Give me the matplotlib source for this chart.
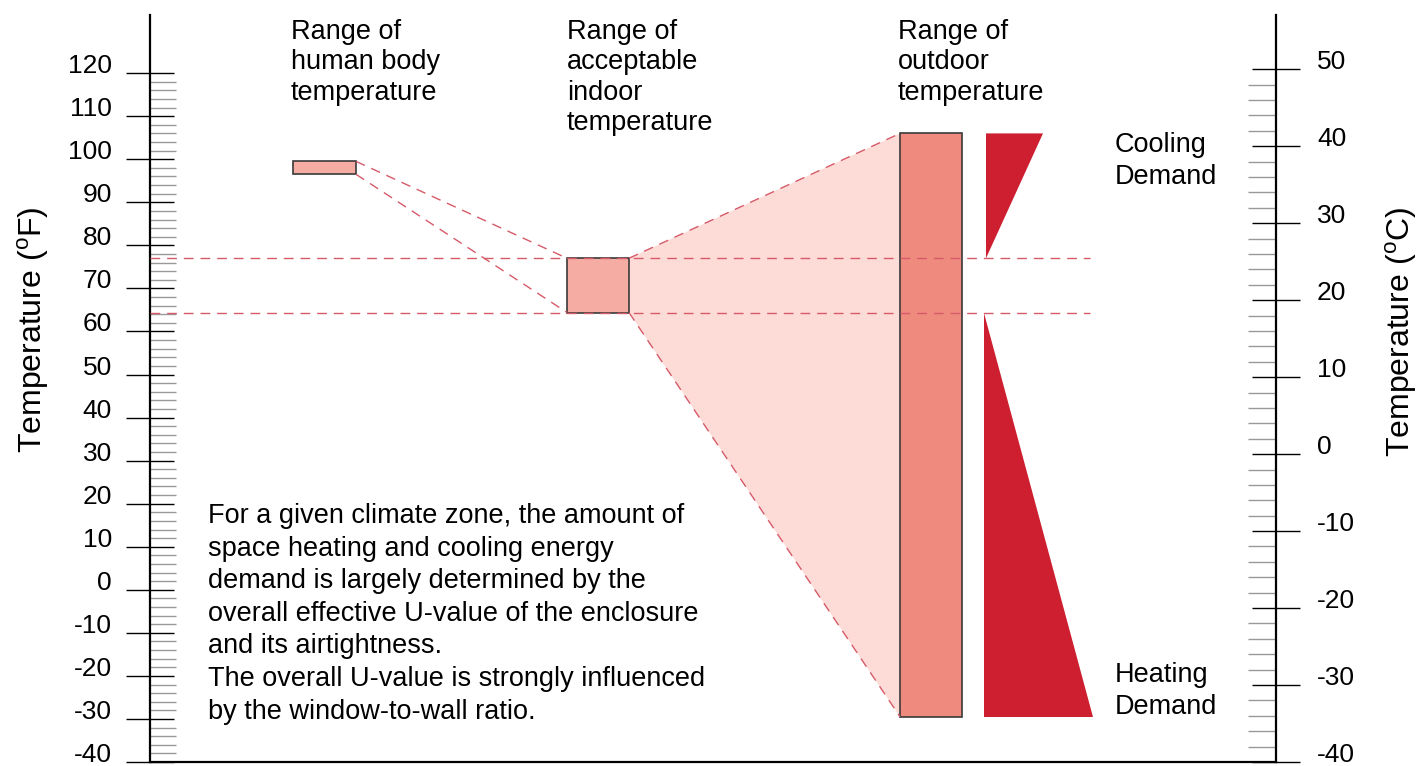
import matplotlib
matplotlib.use('Agg')
import matplotlib.pyplot as plt
from matplotlib.patches import Rectangle, Polygon
from matplotlib.ticker import FixedLocator

plt.rcParams['font.family'] = ['Liberation Sans', 'DejaVu Sans']
plt.rcParams['axes.unicode_minus'] = False
plt.rcParams['mathtext.fontset'] = 'custom'
plt.rcParams['mathtext.rm'] = 'Liberation Sans'

# --- data (temperatures in deg F unless noted) ---
f_ticks = list(range(-40, 121, 10))
f_minor = [v for v in range(-38, 120, 2) if v % 10]
c_ticks = list(range(-40, 51, 10))
c_minor = [v for v in range(-38, 50, 2) if v % 10]

body_range = (96.5, 99.5)
indoor_range = (64.4, 77.0)      # 18-25 C
outdoor_range = (-29.5, 106.0)

titles = ['Range of\nhuman body\ntemperature',
          'Range of\nacceptable\nindoor\ntemperature',
          'Range of\noutdoor\ntemperature']
note = ('For a given climate zone, the amount of\n'
        'space heating and cooling energy\n'
        'demand is largely determined by the\n'
        'overall effective U-value of the enclosure\n'
        'and its airtightness.\n'
        'The overall U-value is strongly influenced\n'
        'by the window-to-wall ratio.')

# colours
c_box = '#f5aca3'
c_out = '#ef8a7f'
c_fan = '#fddcd7'
c_dem = '#cd1f30'
c_dash = '#d65a68'
c_edge = '#3a3a3a'

W, H = 1417, 766
fig = plt.figure(figsize=(W / 100, H / 100), dpi=100)
ax = fig.add_axes([150 / W, 4 / H, 1126 / W, 747 / H])
ax.set_xlim(150, 1276)
ax.set_ylim(-40, 133.5)

# column x-extents (layout, screen units)
body_x = (293, 356)
indoor_x = (567, 629)
out_x = (900, 962)
cool_x = (986, 1043)
heat_x = (984, 1093)


def box(xs, rng, fc):
    ax.add_patch(Rectangle((xs[0], rng[0]), xs[1] - xs[0], rng[1] - rng[0],
                           fc=fc, ec=c_edge, lw=1.2, zorder=3))


# light fan from indoor to outdoor range
ax.add_patch(Polygon([(indoor_x[1], indoor_range[1]), (out_x[0], outdoor_range[1]),
                      (out_x[0], outdoor_range[0]), (indoor_x[1], indoor_range[0])],
                     closed=True, fc=c_fan, ec='none', zorder=1))

box(body_x, body_range, c_box)
box(indoor_x, indoor_range, c_box)
box(out_x, outdoor_range, c_out)

# demand triangles
ax.add_patch(Polygon([(cool_x[0], outdoor_range[1]), (cool_x[1], outdoor_range[1]),
                      (cool_x[0], indoor_range[1])], fc=c_dem, ec='none', zorder=3))
ax.add_patch(Polygon([(heat_x[0], indoor_range[0]), (heat_x[0], outdoor_range[0]),
                      (heat_x[1], outdoor_range[0])], fc=c_dem, ec='none', zorder=3))

dash = dict(color=c_dash, lw=1.0, dashes=(7, 5), zorder=4)
# horizontal comfort band lines
for v in indoor_range:
    ax.plot([150, 1090], [v, v], **dash)
# body -> indoor
ax.plot([body_x[1], indoor_x[0]], [body_range[1], indoor_range[1]], **dash)
ax.plot([body_x[1], indoor_x[0]], [body_range[0], indoor_range[0]], **dash)
# indoor -> outdoor
ax.plot([indoor_x[1], out_x[0]], [indoor_range[1], outdoor_range[1]], **dash)
ax.plot([indoor_x[1], out_x[0]], [indoor_range[0], outdoor_range[0]], **dash)

# axes / ticks
ax.spines['top'].set_visible(False)
ax.spines['right'].set_visible(False)
ax.spines['left'].set_linewidth(1.6)
ax.spines['bottom'].set_linewidth(1.6)
ax.set_xticks([])
ax.yaxis.set_major_locator(FixedLocator(f_ticks))
ax.yaxis.set_minor_locator(FixedLocator(f_minor))
ax.tick_params(axis='y', which='major', direction='inout', length=35, width=1.0,
               color='black', labelsize=19, pad=10)
ax.tick_params(axis='y', which='minor', direction='in', length=19, width=1.0,
               color='#999999')
for lbl in ax.get_yticklabels():
    lbl.set_va('baseline')

ax2 = ax.twinx()
ax2.set_ylim(-40, 57.05)
for s in ['top', 'left', 'bottom']:
    ax2.spines[s].set_visible(False)
ax2.spines['right'].set_linewidth(1.6)
ax2.yaxis.set_major_locator(FixedLocator(c_ticks))
ax2.yaxis.set_minor_locator(FixedLocator(c_minor))
ax2.tick_params(axis='y', which='major', direction='inout', length=35, width=1.0,
                color='black', labelsize=19, pad=12)
ax2.tick_params(axis='y', which='minor', direction='in', length=20, width=1.0,
                color='#999999')
for lbl in ax2.get_yticklabels():
    lbl.set_va('baseline')

fig.text(33 / W, 1 - 330 / H, r'Temperature ($^{\mathrm{o}}$F)', rotation=90,
         fontsize=23, ha='center', va='center')
fig.text(1401 / W, 1 - 332 / H, r'Temperature ($^{\mathrm{o}}$C)', rotation=90,
         fontsize=23, ha='center', va='center')

# annotations (screen positions)
for x, t in zip([291, 567, 898], titles):
    fig.text(x / W, 1 - 19 / H, t, fontsize=19.5, ha='left', va='top', linespacing=1.22)
fig.text(1115 / W, 1 - 132 / H, 'Cooling\nDemand', fontsize=19.5, ha='left', va='top',
         linespacing=1.3)
fig.text(1115 / W, 1 - 662 / H, 'Heating\nDemand', fontsize=19.5, ha='left', va='top',
         linespacing=1.3)
fig.text(208 / W, 1 - 503 / H, note, fontsize=19.5, ha='left', va='top', linespacing=1.33)

fig.savefig('out.png', dpi=100)
plt.close(fig)
